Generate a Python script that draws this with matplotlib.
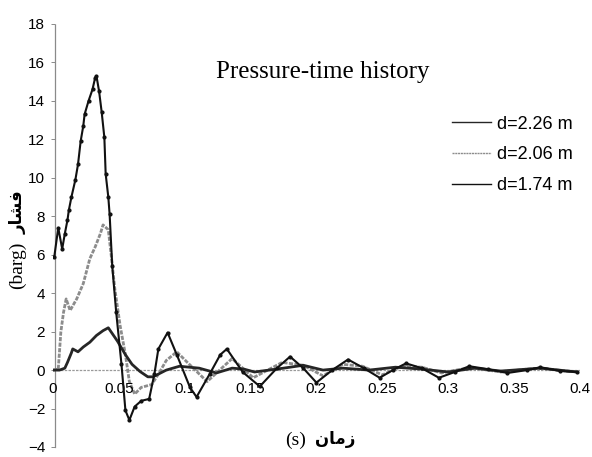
import numpy as np
import matplotlib.pyplot as plt

# pressure-time history, three stand-off distances
t_174 = [0.001, 0.004, 0.007, 0.009, 0.011, 0.012, 0.014, 0.017, 0.019, 0.021,
         0.023, 0.024, 0.027, 0.030, 0.032, 0.033, 0.035, 0.037, 0.039, 0.040,
         0.042, 0.043, 0.045, 0.048, 0.052, 0.055, 0.058, 0.062, 0.067, 0.073,
         0.077, 0.080, 0.087, 0.094, 0.104, 0.109, 0.119, 0.127, 0.132, 0.144,
         0.157, 0.170, 0.180, 0.190, 0.200, 0.212, 0.224, 0.236, 0.248, 0.258,
         0.268, 0.280, 0.293, 0.305, 0.316, 0.330, 0.345, 0.360, 0.370, 0.385, 0.398]
p_174 = [5.9, 7.4, 6.3, 7.1, 7.8, 8.3, 9.0, 9.9, 10.7, 11.9,
         12.7, 13.3, 14.0, 14.6, 15.2, 15.3, 14.5, 13.4, 12.1, 10.2,
         9.0, 8.1, 5.4, 3.0, 0.3, -2.1, -2.6, -1.9, -1.6, -1.5,
         -0.2, 1.1, 1.95, 0.8, -0.9, -1.4, -0.2, 0.8, 1.1, -0.1,
         -0.85, 0.1, 0.7, 0.1, -0.65, 0.0, 0.55, 0.1, -0.4, 0.0,
         0.35, 0.1, -0.4, -0.1, 0.2, 0.05, -0.15, 0.0, 0.15, -0.05, -0.1]

t_206 = [0.0, 0.004, 0.006, 0.008, 0.010, 0.013, 0.018, 0.023, 0.028, 0.032,
         0.036, 0.038, 0.042, 0.044, 0.047, 0.051, 0.055, 0.058, 0.062, 0.067,
         0.075, 0.081, 0.086, 0.094, 0.102, 0.111, 0.117, 0.136, 0.152, 0.174,
         0.190, 0.205, 0.220, 0.235, 0.250, 0.265, 0.280, 0.295, 0.310, 0.320,
         0.340, 0.360, 0.370, 0.390, 0.398]
p_206 = [0.0, 0.05, 2.0, 3.0, 3.7, 3.1, 3.7, 4.5, 5.8, 6.4,
         7.1, 7.55, 7.3, 6.1, 4.2, 2.3, 0.8, -0.6, -1.25, -0.9,
         -0.75, -0.1, 0.5, 0.95, 0.4, -0.2, -0.6, 0.6, -0.4, 0.4,
         0.25, -0.3, 0.3, 0.2, -0.25, 0.2, 0.15, -0.15, 0.05, 0.1,
         -0.1, 0.05, 0.1, -0.05, -0.1]

t_226 = [0.0, 0.005, 0.009, 0.011, 0.014, 0.015, 0.019, 0.023, 0.028, 0.033,
         0.038, 0.042, 0.045, 0.049, 0.055, 0.060, 0.066, 0.072, 0.076, 0.086,
         0.096, 0.111, 0.124, 0.136, 0.145, 0.153, 0.164, 0.175, 0.190, 0.205,
         0.220, 0.240, 0.260, 0.280, 0.300, 0.320, 0.340, 0.370, 0.398]
p_226 = [0.0, 0.0, 0.1, 0.4, 0.9, 1.1, 0.95, 1.2, 1.45, 1.8,
         2.05, 2.2, 1.9, 1.5, 0.8, 0.3, -0.07, -0.35, -0.35, 0.0,
         0.2, 0.1, -0.15, 0.1, 0.05, -0.1, 0.0, 0.1, 0.25, 0.0,
         0.1, 0.0, 0.15, 0.05, -0.1, 0.1, -0.05, 0.1, -0.1]

x_ticks = [0, 0.05, 0.1, 0.15, 0.2, 0.25, 0.3, 0.35, 0.4]
x_ticklabels = ['0', '0.05', '0.1', '0.15', '0.2', '0.25', '0.3', '0.35', '0.4']
y_ticks = list(range(-4, 19, 2))

# Persian words in presentation forms, visual (left-to-right) order
fa_pressure = '\uFEAD\uFE8E\uFEB8\uFED3'   # فشار
fa_time = '\uFEE5\uFE8E\uFEE3\uFEAF'       # زمان

plt.rcParams['font.family'] = ['Liberation Sans', 'DejaVu Sans']

fig = plt.figure(figsize=(5.92, 4.57), dpi=100)
ax = fig.add_axes([0.0895, 0.0219, 0.890, 0.9256])

ax.axhline(0, color='#9a9a9a', lw=0.9, ls=(0, (2, 1)), zorder=1)

ax.plot(t_226, p_226, color='#262626', lw=2.0, label='d=2.26 m', zorder=3)
ax.plot(t_206, p_206, color='#8c8c8c', lw=2.0, ls=(0, (1.5, 0.5)), label='d=2.06 m', zorder=2)
ax.plot(t_174, p_174, color='#111111', lw=1.5, marker='o', ms=2.0,
        label='d=1.74 m', zorder=4)

ax.set_xlim(0, 0.4)
ax.set_ylim(-4, 18)

for s in ['top', 'right', 'bottom']:
    ax.spines[s].set_visible(False)
ax.spines['left'].set_position(('data', 0.0015))
ax.spines['left'].set_color('#8a8a8a')
ax.spines['left'].set_linestyle((0, (2, 1)))
ax.spines['left'].set_linewidth(0.9)

ax.set_yticks(y_ticks)
ax.set_xticks(x_ticks)
ax.set_xticklabels(x_ticklabels)
ax.tick_params(axis='y', length=3, width=0.7, color='#8a8a8a', pad=4, labelsize=11)
ax.tick_params(axis='x', length=0, labelsize=11)
# x tick labels sit just under the zero line
for lab in ax.get_xticklabels():
    lab.set_visible(False)
for xv, xl in zip(x_ticks, x_ticklabels):
    ax.text(xv, -0.6, xl, ha='center', va='top', fontsize=11)

ax.text(0.205, 15.5, 'Pressure-time history', family='Liberation Serif',
        fontsize=18, ha='center', va='center')

leg = ax.legend(loc='upper right', bbox_to_anchor=(1.0, 0.80), frameon=False,
                fontsize=13, handlelength=2.2, handletextpad=0.3,
                labelspacing=0.75, borderaxespad=0.0)
for h in leg.legend_handles:
    h.set_linewidth(1.0)
    h.set_marker('')

# y label: (barg) + Persian word, rotated
fig.text(0.030, 0.420, '(barg)', family='Liberation Serif', fontsize=14,
         rotation=90, ha='center', va='center')
fig.text(0.030, 0.535, fa_pressure, family='DejaVu Sans', fontweight='bold',
         fontsize=12, rotation=90, ha='center', va='center')

# x label
fig.text(0.500, 0.037, '(s)', family='Liberation Serif', fontsize=14,
         ha='center', va='center')
fig.text(0.567, 0.040, fa_time, family='DejaVu Sans', fontweight='bold',
         fontsize=12, ha='center', va='center')

fig.savefig('out.png', dpi=100)
